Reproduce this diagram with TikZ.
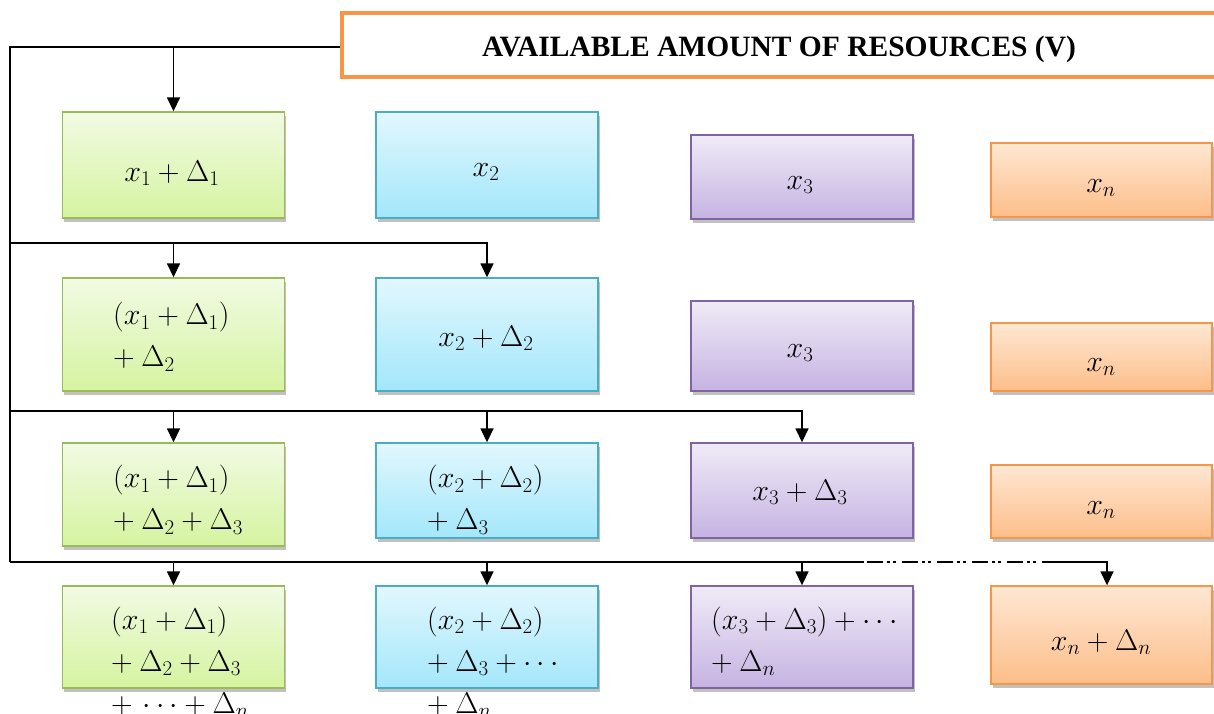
\RequirePackage{fix-cm}
\documentclass[tikz,border=0pt]{standalone}
\usepackage{fontspec}
\newfontfamily\titlefont{Liberation Serif}
\usetikzlibrary{arrows.meta,shadows}
\definecolor{gB}{HTML}{9BBB59}\definecolor{gT}{HTML}{F2FAE4}\definecolor{gD}{HTML}{D5F4A0}
\definecolor{bB}{HTML}{4BACC6}\definecolor{bT}{HTML}{E2F7FD}\definecolor{bD}{HTML}{A3E7FB}
\definecolor{pB}{HTML}{8064A2}\definecolor{pT}{HTML}{F0EBF7}\definecolor{pD}{HTML}{C5B3E2}
\definecolor{oB}{HTML}{F79646}\definecolor{oT}{HTML}{FEE7D3}\definecolor{oD}{HTML}{FDBE8A}
\tikzset{
  box/.style={draw, rectangle, line width=1.4pt, inner sep=0pt,
    drop shadow={shadow xshift=1.5pt, shadow yshift=-4pt, opacity=0.35, fill=black!70}},
  gbox/.style={box, draw=gB, top color=gT, bottom color=gD},
  bbox/.style={box, draw=bB, top color=bT, bottom color=bD},
  pbox/.style={box, draw=pB, top color=pT, bottom color=pD},
  obox/.style={box, draw=oB, top color=oT, bottom color=oD},
  txt/.style={font=\fontsize{30}{42}\selectfont, inner sep=0pt},
  ltxt/.style={txt, align=left, anchor=west},
  ln/.style={line width=1.6pt, black},
  arr/.style={ln, -{Triangle[width=13pt,length=14pt]}},
  dsh/.style={line width=1.6pt, black},
}
\begin{document}
\begin{tikzpicture}[x=1pt, y=-1pt]
\useasboundingbox (0,0) rectangle (1214,713);
\clip (0,0) rectangle (1214,713);
% title
\node[draw=oB, line width=4.5pt, rectangle, fill=white, minimum width=900pt, minimum height=64pt, inner sep=0pt] (T) at (792,45) {};
\node[inner sep=0pt, font=\titlefont\bfseries\fontsize{29.5}{32}\selectfont] (Tt) at (779,49) {AVAILABLE AMOUNT OF RESOURCES (V)};
% boxes row 1
\node[gbox, minimum width=222pt, minimum height=106pt] (g1) at (173.5,165) {};
\node[bbox, minimum width=222pt, minimum height=106pt] (b1) at (487,165) {};
\node[pbox, minimum width=222pt, minimum height=84pt] (p1) at (802,177) {};
\node[obox, minimum width=221pt, minimum height=74pt] (o1) at (1101.5,180) {};
% row 2
\node[gbox, minimum width=222pt, minimum height=113pt] (g2) at (173.5,334.5) {};
\node[bbox, minimum width=222pt, minimum height=113pt] (b2) at (487,334.5) {};
\node[pbox, minimum width=222pt, minimum height=90pt] (p2) at (802,346) {};
\node[obox, minimum width=221pt, minimum height=68pt] (o2) at (1101.5,357) {};
% row 3
\node[gbox, minimum width=222pt, minimum height=103pt] (g3) at (173.5,494.5) {};
\node[bbox, minimum width=222pt, minimum height=95pt] (b3) at (487,490.5) {};
\node[pbox, minimum width=222pt, minimum height=95pt] (p3) at (802,490.5) {};
\node[obox, minimum width=221pt, minimum height=73pt] (o3) at (1101.5,501.5) {};
% row 4
\node[gbox, minimum width=222pt, minimum height=102pt] (g4) at (173.5,637) {};
\node[bbox, minimum width=222pt, minimum height=102pt] (b4) at (487,637) {};
\node[pbox, minimum width=222pt, minimum height=102pt] (p4) at (802,637) {};
\node[obox, minimum width=221pt, minimum height=98pt] (o4) at (1101.5,635) {};
% texts
\node[txt] (g1t) at (172,173) {$x_1+\Delta_1$};
\node[txt] (b1t) at (486,172) {$x_2$};
\node[txt] (p1t) at (800,185) {$x_3$};
\node[txt] (o1t) at (1101,188) {$x_n$};
\node[ltxt] (g2t) at (113,337) {$(x_1+\Delta_1)$\\$+\:\Delta_2$};
\node[txt] (b2t) at (486,338) {$x_2+\Delta_2$};
\node[txt] (p2t) at (800,353) {$x_3$};
\node[txt] (o2t) at (1101,367) {$x_n$};
\node[ltxt] (g3t) at (113,500) {$(x_1+\Delta_1)$\\$+\:\Delta_2+\Delta_3$};
\node[ltxt] (b3t) at (427,500) {$(x_2+\Delta_2)$\\$+\:\Delta_3$};
\node[txt] (p3t) at (800,492) {$x_3+\Delta_3$};
\node[txt] (o3t) at (1101,510) {$x_n$};
\node[ltxt] (g4t) at (111,662) {$(x_1+\Delta_1)$\\$+\:\Delta_2+\Delta_3$\\$+\,\cdots+\Delta_n$};
\node[ltxt] (b4t) at (427,662) {$(x_2+\Delta_2)$\\$+\:\Delta_3+\cdots$\\$+\:\Delta_n$};
\node[ltxt] (p4t) at (711,641) {$(x_3+\Delta_3)+\cdots$\\$+\:\Delta_n$};
\node[txt] (o4t) at (1101,642) {$x_n+\Delta_n$};
% connectors
\coordinate (L0) at (10,47);
\coordinate (L1) at (10,243);
\coordinate (L2) at (10,411);
\coordinate (L3) at (10,562);
\coordinate (D1) at (864,562);
\coordinate (D2) at (1042,562);
\coordinate (O4top) at ([xshift=5.5pt]o4.north);
\draw[ln] (T.west |- L0) -- (L0) -- (L3);
\draw[arr] (g1.north |- L0) -- (g1.north);
\draw[arr] (L1) -| (b2.north);
\draw[arr] (g2.north |- L1) -- (g2.north);
\draw[arr] (L2) -| (p3.north);
\draw[arr] (g3.north |- L2) -- (g3.north);
\draw[arr] (b3.north |- L2) -- (b3.north);
\draw[ln] (L3) -- (D1);
\foreach \i in {0,...,4} {
  \draw[dsh] ([xshift=\i*35pt+3pt]D1) -- ++(16,0);
  \draw[dsh] ([xshift=\i*35pt+23pt]D1) -- ++(3,0);
  \draw[dsh] ([xshift=\i*35pt+29pt]D1) -- ++(3,0);
}
\draw[arr] (D2) -| (O4top);
\draw[arr] (g4.north |- L3) -- (g4.north);
\draw[arr] (b4.north |- L3) -- (b4.north);
\draw[arr] (p4.north |- L3) -- (p4.north);
\end{tikzpicture}
\end{document}
